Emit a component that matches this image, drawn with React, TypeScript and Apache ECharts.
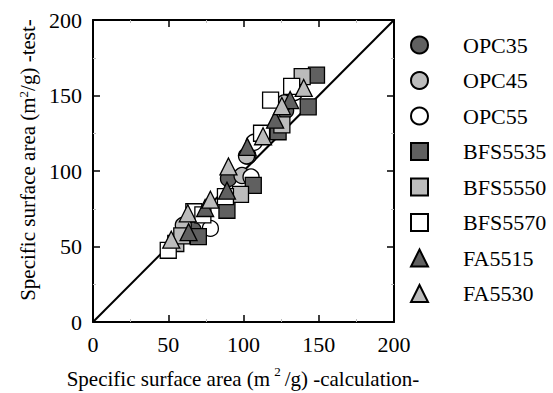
import React, { useEffect, useRef } from "react";
import * as echarts from "echarts";

const seriesNames = ["OPC35", "OPC45", "OPC55", "BFS5535", "BFS5550", "BFS5570", "FA5515", "FA5530"];
const xTicks = [0, 50, 100, 150, 200];

const opc35 = [[61, 64], [66.5, 61], [90, 95], [103, 110], [128, 140]];
const opc45 = [[60, 64], [99, 97], [102, 110], [127, 145]];
const opc55 = [[78, 62], [105, 96], [107, 119], [134, 152]];
const bfs5535 = [[70, 56.5], [89, 74], [106.5, 90.5], [123, 126], [143, 142.5], [148.5, 163.5]];
const bfs5550 = [[55, 52], [59, 57], [98, 84.5], [125.5, 130.5], [139, 162.5]];
const bfs5570 = [[50, 47.5], [67, 73], [73, 71], [88, 83], [112, 125], [118, 147], [132, 156]];
const fa5515 = [[63.5, 59.5], [74.5, 75.5], [89, 87], [102.5, 116], [121, 134], [131, 147]];
const fa5530 = [[52, 54.5], [63, 72], [78, 81], [90, 103], [113, 123], [125.5, 143], [140, 155]];
const diagonal = [[0, 0], [200, 200]];

const DARK = "#606060";
const LIGHT = "#bcbcbc";
const WHITE = "#ffffff";
const FONT = "'Liberation Serif', 'Times New Roman', serif";

export default function App() {
  const ref = useRef<HTMLDivElement>(null);
  useEffect(() => {
    if (!ref.current) return;
    const chart = echarts.init(ref.current, undefined, { renderer: "svg" });
    const mk = (name: string, data: number[][], symbol: string, color: string) => ({
      name,
      type: "scatter",
      data,
      symbol,
      symbolSize: symbol === "triangle" ? 17 : 16,
      itemStyle: { color, borderColor: "#000", borderWidth: 1.3, opacity: 1 },
      z: 3,
    });
    const axisCommon = (pos: string, showLabel: boolean) => ({
      type: "value",
      min: xTicks[0],
      max: xTicks[xTicks.length - 1],
      interval: 50,
      position: pos,
      axisLine: { show: true, onZero: false, lineStyle: { color: "#000", width: 2 } },
      axisTick: { show: true, inside: true, length: 7, lineStyle: { color: "#000", width: 1.5 } },
      minorTick: { show: true, splitNumber: 2, length: 3, lineStyle: { color: "#bbb", width: 1 } },
      splitLine: { show: false },
      axisLabel: { show: showLabel, fontSize: 22, color: "#000", fontFamily: FONT, margin: 11 },
    });
    chart.setOption({
      animation: false,
      backgroundColor: "#fff",
      grid: { left: 93, right: 159, top: 20, bottom: 71, show: false },
      xAxis: [axisCommon("bottom", true), axisCommon("top", false)],
      yAxis: [axisCommon("left", true), axisCommon("right", false)],
      legend: {
        orient: "vertical",
        left: 405,
        top: 29,
        itemWidth: 17,
        itemHeight: 17,
        itemGap: 13.5,
        data: seriesNames,
        textStyle: { fontSize: 22, fontFamily: FONT, color: "#000", lineHeight: 17, padding: [0, 0, 0, 30] },
      },
      series: [
        {
          type: "line",
          data: diagonal,
          symbol: "none",
          silent: true,
          lineStyle: { color: "#000", width: 2 },
          z: 1,
        },
        mk("OPC35", opc35, "circle", DARK),
        mk("OPC45", opc45, "circle", LIGHT),
        mk("OPC55", opc55, "circle", WHITE),
        mk("BFS5535", bfs5535, "rect", DARK),
        mk("BFS5550", bfs5550, "rect", LIGHT),
        mk("BFS5570", bfs5570, "rect", WHITE),
        mk("FA5515", fa5515, "triangle", DARK),
        mk("FA5530", fa5530, "triangle", LIGHT),
      ],
      graphic: [
        {
          type: "text",
          x: 243,
          y: 379,
          style: {
            text: "Specific surface area (m{sup|2}/g) -calculation-",
            fontSize: 21,
            fontFamily: FONT,
            fill: "#000",
            align: "center",
            verticalAlign: "middle",
            rich: { sup: { fontSize: 13, fontFamily: FONT, padding: [0, 4, 16, 4] } },
          },
        },
        {
          type: "text",
          x: 28,
          y: 160,
          rotation: Math.PI / 2,
          style: {
            text: "Specific surface area (m{sup|2}/g) -test-",
            fontSize: 21,
            fontFamily: FONT,
            fill: "#000",
            align: "center",
            verticalAlign: "middle",
            rich: { sup: { fontSize: 13, fontFamily: FONT, padding: [0, 0, 10, 0] } },
          },
        },
      ],
    });
    return () => chart.dispose();
  }, []);
  return <div ref={ref} style={{ position: "absolute", left: 0, top: 0, width: 553, height: 393 }} />;
}
